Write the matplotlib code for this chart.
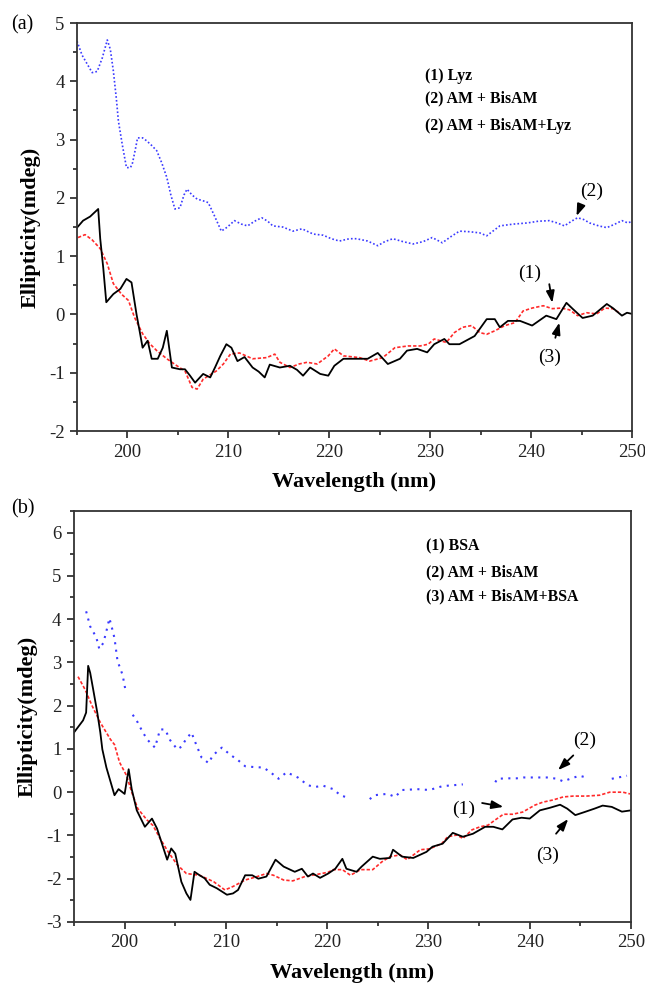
import numpy as np
import matplotlib
matplotlib.use("Agg")
import matplotlib.pyplot as plt
from matplotlib.ticker import MultipleLocator

plt.rcParams['font.family'] = ['Liberation Serif', 'DejaVu Serif']
plt.rcParams['axes.unicode_minus'] = False

# ---- panel (a): Lyz ----
a_blue_x = [195.0, 195.5, 196.0, 196.5, 197.0, 197.5, 198.0, 198.3, 198.6, 198.9, 199.1, 199.5,
            199.9, 200.3, 200.5, 200.8, 201.0, 201.5, 201.9, 202.4, 202.9, 203.4, 203.9, 204.3,
            204.7, 205.2, 205.6, 205.9, 206.4, 206.9, 207.5, 208.0, 208.6, 209.3, 209.9, 210.6,
            211.3, 211.9, 212.6, 213.3, 213.9, 214.4, 215.4, 216.4, 217.3, 218.4, 219.4, 220.2,
            221.0, 222.0, 222.7, 223.8, 224.8, 225.5, 226.3, 227.3, 228.3, 229.3, 230.2, 231.2,
            232.0, 232.9, 233.9, 234.9, 235.6, 236.9, 238.2, 239.6, 240.7, 241.8, 242.6, 243.3,
            244.0, 244.6, 245.2, 245.8, 246.7, 247.5, 248.3, 249.0, 249.6, 250.0]
a_blue_y = [4.69, 4.45, 4.30, 4.15, 4.17, 4.40, 4.71, 4.55, 4.18, 3.70, 3.32, 2.90,
            2.52, 2.52, 2.60, 2.85, 3.03, 3.03, 2.98, 2.90, 2.81, 2.60, 2.35, 2.05,
            1.81, 1.83, 2.05, 2.15, 2.05, 1.98, 1.95, 1.92, 1.70, 1.43, 1.50, 1.61,
            1.55, 1.52, 1.60, 1.66, 1.60, 1.52, 1.50, 1.43, 1.47, 1.38, 1.36, 1.30,
            1.26, 1.30, 1.30, 1.26, 1.18, 1.25, 1.30, 1.25, 1.21, 1.25, 1.32, 1.23,
            1.33, 1.43, 1.42, 1.40, 1.35, 1.52, 1.55, 1.57, 1.60, 1.61, 1.57, 1.52,
            1.60, 1.66, 1.63, 1.57, 1.52, 1.49, 1.55, 1.61, 1.57, 1.60]

a_black_x = [195.0, 195.6, 196.3, 197.1, 197.3, 197.6, 197.9, 198.6, 199.3, 199.9, 200.4, 200.9,
             201.2, 201.5, 202.0, 202.4, 203.0, 203.5, 203.9, 204.4, 205.2, 205.7, 206.2, 206.7,
             207.5, 208.2, 208.7, 209.2, 209.8, 210.3, 210.9, 211.6, 212.4, 213.0, 213.6, 214.1,
             215.1, 216.1, 216.8, 217.4, 218.1, 219.1, 219.9, 220.5, 221.4, 222.3, 223.8, 224.8,
             225.8, 227.0, 227.7, 228.7, 229.7, 230.4, 231.4, 231.9, 232.9, 234.4, 235.6, 236.4,
             236.9, 237.7, 238.9, 240.1, 241.5, 242.5, 243.5, 244.1, 245.1, 246.1, 247.5, 248.1,
             249.0, 249.5, 250.0]
a_black_y = [1.49, 1.61, 1.68, 1.81, 1.30, 0.80, 0.21, 0.35, 0.44, 0.61, 0.55, 0.00,
             -0.28, -0.57, -0.45, -0.76, -0.76, -0.57, -0.28, -0.91, -0.94, -0.94, -1.05, -1.17,
             -1.02, -1.08, -0.90, -0.71, -0.51, -0.57, -0.80, -0.73, -0.91, -0.98, -1.08, -0.86,
             -0.91, -0.88, -0.95, -1.05, -0.91, -1.02, -1.05, -0.88, -0.76, -0.76, -0.76, -0.66,
             -0.85, -0.76, -0.62, -0.59, -0.65, -0.51, -0.42, -0.51, -0.51, -0.37, -0.08, -0.08,
             -0.22, -0.11, -0.11, -0.19, -0.02, -0.08, 0.20, 0.10, -0.06, -0.02, 0.18, 0.11,
             -0.02, 0.03, 0.01]

a_red_x = [195.1, 195.8, 196.5, 197.3, 198.0, 198.6, 199.4, 200.1, 200.7, 201.5, 202.2, 202.9,
           203.9, 204.9, 205.7, 206.4, 206.9, 207.5, 208.8, 209.5, 210.2, 211.1, 212.4, 213.8,
           214.6, 215.1, 216.1, 217.0, 217.8, 218.8, 219.9, 220.5, 221.4, 223.0, 224.0, 225.3,
           226.5, 227.8, 229.0, 229.8, 230.4, 231.6, 232.4, 233.2, 234.1, 234.9, 235.6, 236.4,
           237.4, 238.4, 239.2, 240.1, 241.2, 242.1, 243.0, 243.8, 244.6, 245.5, 246.5, 247.3,
           248.1, 248.8]
a_red_y = [1.32, 1.37, 1.28, 1.13, 0.87, 0.53, 0.35, 0.24, -0.05, -0.33, -0.50, -0.62,
           -0.76, -0.88, -0.97, -1.25, -1.28, -1.11, -0.97, -0.85, -0.68, -0.66, -0.76, -0.74,
           -0.68, -0.82, -0.91, -0.85, -0.82, -0.85, -0.71, -0.59, -0.71, -0.74, -0.80, -0.74,
           -0.57, -0.54, -0.54, -0.51, -0.42, -0.48, -0.31, -0.22, -0.19, -0.31, -0.34, -0.28,
           -0.19, -0.14, 0.06, 0.11, 0.15, 0.10, 0.11, 0.08, -0.02, 0.03, 0.01, 0.11,
           0.10, 0.02]

a_legend = ["(1) Lyz", "(2) AM + BisAM", "(2) AM + BisAM+Lyz"]

# ---- panel (b): BSA ----
nan = np.nan
b_blue_x = [196.2, 196.6, 197.2, 197.5, 197.9, 198.2, 198.5, 198.8, 199.0, 199.3, 199.8, 200.1,
            200.4, 200.8, 201.3, 201.8, 202.3, 203.0, 203.5, 204.0, 204.5, 205.2, 205.6, 206.0,
            206.6, 207.1, 207.6, 208.3, 208.7, 209.6, 210.4, 211.2, 211.9, 212.8, 213.7, 214.4,
            215.2, 216.0, 217.1, 218.1, 218.8, 219.6, 220.6, 221.3, 221.8, 223.0, 224.2, 224.7,
            225.4, 226.0, 226.7, 227.4, 228.2, 228.9, 229.5, 230.1, 230.8, 231.4, 232.4, 233.4,
            234.2, 235.1, 235.8, 236.6, 236.8, 237.7, 238.7, 239.4, 240.0, 240.8, 241.7, 242.7,
            243.3, 244.0, 244.9, 245.6, 247.0, 248.1, 249.6]
b_blue_y = [4.18, 3.83, 3.58, 3.31, 3.45, 3.72, 4.02, 3.75, 3.56, 3.03, 2.71, 2.34,
            nan, 1.79, 1.61, 1.38, 1.20, 1.03, 1.45, 1.45, 1.20, 0.99, 1.05, 1.20,
            1.38, 1.08, 0.80, 0.67, 0.85, 1.03, 0.87, 0.74, 0.60, 0.58, 0.57, 0.46,
            0.31, 0.46, 0.34, 0.16, 0.12, 0.15, 0.07, -0.07, -0.11, nan, -0.16, -0.07,
            -0.05, -0.04, -0.11, 0.05, 0.06, 0.07, 0.06, 0.05, 0.10, 0.14, 0.16, 0.18,
            nan, 0.27, nan, 0.23, 0.31, 0.32, 0.32, 0.34, 0.34, 0.34, 0.34, 0.31,
            0.25, 0.31, 0.38, 0.34, nan, 0.31, 0.38]

b_black_x = [195.0, 195.9, 196.2, 196.4, 196.6, 196.9, 197.3, 197.6, 197.8, 198.2, 198.6, 199.0,
             199.4, 200.0, 200.4, 200.7, 201.2, 202.0, 202.7, 203.2, 203.7, 204.2, 204.6, 205.0,
             205.6, 206.1, 206.5, 206.9, 207.4, 207.9, 208.4, 209.1, 210.1, 210.7, 211.2, 211.9,
             212.6, 213.2, 214.0, 214.9, 215.7, 216.8, 217.5, 218.1, 218.6, 219.3, 220.1, 220.8,
             221.5, 221.9, 222.9, 223.4, 224.5, 225.2, 226.2, 226.5, 227.4, 228.5, 229.8, 230.4,
             231.4, 232.4, 233.4, 234.4, 235.6, 236.4, 237.3, 238.3, 239.2, 240.0, 241.0, 242.0,
             243.0, 243.7, 244.5, 245.4, 246.4, 247.2, 248.1, 249.1, 250.0]
b_black_y = [1.38, 1.66, 1.84, 2.92, 2.76, 2.37, 1.84, 1.38, 0.99, 0.57, 0.25, -0.07,
             0.07, -0.04, 0.53, 0.07, -0.42, -0.80, -0.61, -0.84, -1.20, -1.56, -1.30, -1.42,
             -2.07, -2.34, -2.49, -1.84, -1.92, -1.99, -2.14, -2.22, -2.37, -2.34, -2.26, -1.92,
             -1.92, -2.00, -1.95, -1.56, -1.72, -1.84, -1.77, -1.95, -1.88, -1.98, -1.88, -1.77,
             -1.54, -1.77, -1.84, -1.72, -1.49, -1.54, -1.52, -1.33, -1.49, -1.52, -1.38, -1.26,
             -1.19, -0.94, -1.03, -0.96, -0.80, -0.80, -0.86, -0.63, -0.59, -0.61, -0.42, -0.36,
             -0.29, -0.38, -0.53, -0.46, -0.38, -0.31, -0.34, -0.45, -0.42]

b_red_x = [195.4, 196.1, 196.8, 197.6, 198.6, 199.0, 199.5, 200.2, 200.7, 201.3, 202.2, 202.8,
           203.5, 204.3, 205.2, 206.1, 207.4, 208.8, 209.9, 210.7, 211.9, 213.1, 214.0, 214.7,
           215.7, 216.6, 217.8, 219.0, 220.1, 220.6, 221.5, 222.3, 223.3, 224.5, 225.4, 226.2,
           227.2, 227.9, 229.2, 230.1, 231.3, 231.9, 232.8, 233.4, 234.3, 235.1, 235.9, 236.6,
           237.4, 238.3, 239.3, 240.5, 241.3, 242.3, 243.3, 244.3, 245.6, 246.9, 247.9, 249.2,
           249.9]
b_red_y = [2.67, 2.37, 1.99, 1.61, 1.22, 1.10, 0.69, 0.38, 0.00, -0.38, -0.64, -0.77,
           -1.07, -1.38, -1.68, -1.88, -1.92, -2.07, -2.26, -2.18, -2.03, -1.95, -1.88, -1.92,
           -2.03, -2.05, -1.95, -1.90, -1.85, -1.79, -1.79, -1.92, -1.79, -1.79, -1.61, -1.49,
           -1.45, -1.56, -1.33, -1.31, -1.19, -1.03, -0.99, -1.07, -0.87, -0.80, -0.76, -0.64,
           -0.51, -0.51, -0.46, -0.30, -0.23, -0.18, -0.11, -0.09, -0.09, -0.07, 0.00, 0.00,
           -0.04]

b_legend = ["(1) BSA", "(2) AM + BisAM", "(3) AM + BisAM+BSA"]

blue = '#3a3aff'
red = '#ff2a2a'
arrow = dict(arrowstyle='-|>,head_length=0.7,head_width=0.25', color='k', lw=1.3,
             shrinkA=0, shrinkB=0)

fig = plt.figure(figsize=(6.45, 9.9), dpi=100)
ax1 = fig.add_axes([0.1194, 0.5646, 0.8605, 0.4121])
ax2 = fig.add_axes([0.1147, 0.0687, 0.8636, 0.4152])


def style(ax, ylo, yhi):
    ax.set_xlim(195, 250)
    ax.set_ylim(ylo, yhi)
    ax.xaxis.set_major_locator(MultipleLocator(10))
    ax.xaxis.set_minor_locator(MultipleLocator(5))
    ax.yaxis.set_major_locator(MultipleLocator(1))
    ax.yaxis.set_minor_locator(MultipleLocator(0.5))
    ax.tick_params(which='both', direction='out', top=False, right=False,
                   width=1.2, colors='#222222', labelsize=13.5, labelcolor='#222222')
    ax.tick_params(which='major', length=5, pad=4)
    ax.tick_params(which='minor', length=3)
    for s in ax.spines.values():
        s.set_linewidth(1.3)
        s.set_color('#333333')
    ax.set_xlabel("Wavelength (nm)", fontsize=16, fontweight='bold', labelpad=8)
    ax.set_ylabel("Ellipticity(mdeg)", fontsize=16, fontweight='bold', labelpad=6)


# panel (a)
ax1.plot(a_blue_x, a_blue_y, color=blue, lw=1.2, linestyle=(0, (1, 1.3)))
ax1.plot(a_red_x, a_red_y, color=red, lw=1.2, linestyle=(0, (2, 1.2)))
ax1.plot(a_black_x, a_black_y, color='k', lw=1.3)
style(ax1, -2, 5)
for t, yy in zip(a_legend, [4.09, 3.70, 3.24]):
    ax1.text(229.5, yy, t, fontsize=11.3, fontweight='bold', ha='left', va='center')
ax1.text(239.9, 0.70, "(1)", fontsize=14, ha='center', va='center')
ax1.annotate("", xy=(242.1, 0.20), xytext=(241.8, 0.52), arrowprops=arrow)
ax1.text(241.8, -0.74, "(3)", fontsize=14, ha='center', va='center')
ax1.annotate("", xy=(242.8, -0.14), xytext=(242.4, -0.40), arrowprops=arrow)
ax1.text(246.0, 2.12, "(2)", fontsize=14, ha='center', va='center')
ax1.annotate("", xy=(244.5, 1.69), xytext=(244.9, 1.86), arrowprops=arrow)
fig.text(0.035, 0.975, "(a)", fontsize=14.5, ha='center', va='center')

# panel (b)
ax2.plot(b_blue_x, b_blue_y, color=blue, lw=1.5, linestyle=(0, (1, 2.6)))
ax2.plot(b_red_x, b_red_y, color=red, lw=1.2, linestyle=(0, (2, 1.2)))
ax2.plot(b_black_x, b_black_y, color='k', lw=1.3)
style(ax2, -3, 6.5)
for t, yy in zip(b_legend, [5.68, 5.08, 4.53]):
    ax2.text(229.8, yy, t, fontsize=11.3, fontweight='bold', ha='left', va='center')
ax2.text(245.4, 1.20, "(2)", fontsize=14, ha='center', va='center')
ax2.annotate("", xy=(242.8, 0.51), xytext=(244.3, 0.85), arrowprops=arrow)
ax2.text(233.5, -0.39, "(1)", fontsize=14, ha='center', va='center')
ax2.annotate("", xy=(237.4, -0.34), xytext=(235.3, -0.25), arrowprops=arrow)
ax2.text(241.8, -1.45, "(3)", fontsize=14, ha='center', va='center')
ax2.annotate("", xy=(243.8, -0.62), xytext=(242.6, -0.96), arrowprops=arrow)
fig.text(0.035, 0.486, "(b)", fontsize=14.5, ha='center', va='center')

fig.savefig("out.png", dpi=100)
